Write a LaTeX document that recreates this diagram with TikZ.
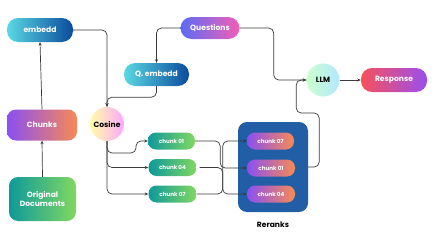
\documentclass[tikz,border=0pt]{standalone}
\usepackage{fontspec}
\setmainfont{Poppins}
\usetikzlibrary{arrows.meta}

\definecolor{lineGray}{HTML}{3A3A3A}
\definecolor{cyanA}{HTML}{5AD8E2}
\definecolor{navyB}{HTML}{0B4B9E}
\definecolor{violetA}{HTML}{8B4FF2}
\definecolor{peachB}{HTML}{F78A55}
\definecolor{tealA}{HTML}{0E9A9A}
\definecolor{limeB}{HTML}{80D860}
\definecolor{rerankBlue}{HTML}{215EA5}
\definecolor{periA}{HTML}{5B6CF5}
\definecolor{pinkB}{HTML}{F25FB5}
\definecolor{coralA}{HTML}{F7505A}
\definecolor{lilacB}{HTML}{9A4FF0}

\begin{document}
\begin{tikzpicture}[x=1pt, y=-1pt,
    every node/.style={font=\fontsize{7.6}{9}\selectfont\bfseries, inner sep=0pt},
    pill/.style={rectangle, rounded corners=11pt, text=white, minimum height=24pt},
    blueGrad/.style={left color=cyanA, right color=navyB},
    sunsetGrad/.style={left color=violetA, right color=peachB},
    mintGrad/.style={left color=tealA, right color=limeB},
    smallpill/.style={rectangle, rounded corners=8pt, text=white, minimum height=17pt,
        minimum width=48pt, font=\fontsize{5.6}{6.5}\selectfont\bfseries},
    link/.style={draw=lineGray, line width=0.7pt, rounded corners=5pt, -{Stealth[length=3.5pt, width=3pt]}}]

    \useasboundingbox (0,0) rectangle (437,241);

    % Inputs
    \node[pill, blueGrad, minimum width=66pt] (embedd) at (40,30) {embedd};
    \node[pill, sunsetGrad, rounded corners=9pt, minimum width=70pt, minimum height=31pt] (chunks) at (42,125) {Chunks};
    \node[pill, mintGrad, rounded corners=9pt, minimum width=67pt, minimum height=44pt, align=center] (docs) at (42.5,199) {Original\\Documents};

    % Query side
    \node[pill, left color=periA, right color=pinkB, minimum width=59pt, minimum height=22pt] (questions) at (210,28) {Questions};
    \node[pill, blueGrad, minimum width=65pt, minimum height=23pt] (qembedd) at (156.5,74.5) {Q. embedd};

    % Similarity
    \node[circle, minimum size=34pt, left color=yellow!35, right color=magenta!35, text=black] (cosine) at (107,124) {Cosine};

    % Retrieved chunks
    \node[smallpill, mintGrad, minimum width=47pt] (ca) at (171.5,141) {chunk 01};
    \node[smallpill, mintGrad] (cb) at (172.5,167.5) {chunk 04};
    \node[smallpill, mintGrad] (cc) at (172.5,194) {chunk 07};

    % Reranked chunks
    \node[rectangle, rounded corners=9pt, fill=rerankBlue, minimum width=70pt, minimum height=90pt] (rerank) at (273,167) {};
    \node[smallpill, sunsetGrad, minimum width=47pt] (ra) at (270.5,141) {chunk 07};
    \node[smallpill, sunsetGrad] (rb) at (271,168) {chunk 01};
    \node[smallpill, sunsetGrad] (rc) at (271,194) {chunk 04};
    \node (rlabel) at (273,225) {Reranks};

    % Answer
    \node[circle, minimum size=33pt, left color=green!20, right color=blue!30!cyan!30, text=black] (llm) at (323,80) {LLM};
    \node[pill, left color=coralA, right color=lilacB, minimum width=66pt] (response) at (394,80) {Response};

    % Connectors
    \draw[link] (docs.north) -- (chunks.south);
    \draw[link] (chunks.north) -- (embedd.south);
    \draw[link] (embedd.east) -| (cosine.north);
    \draw[link] (questions.west) -| (qembedd.north);
    \draw[link] (qembedd.south) -- ++(0,11) -| (cosine.north);
    \draw[link] (questions.east) -- ++(34,0) |- (llm.west);
    \draw[link] (rerank.east) -- ++(11,0) -- ++(0,-54) -- ++(-23,0) |- (llm.west);
    \draw[link] (llm.east) -- (response.west);

    \draw[link] (cosine.south) |- (136,153) |- (ca.west);
    \draw[link] (cosine.south) |- (cb.west);
    \draw[link] (cosine.south) |- (cc.west);

    \draw[link] (ca.east) -- ++(25,0) |- (rb.west);
    \draw[link] ([xshift=3pt]cb.east) -- ++(23,0) |- (rc.west);
    \draw[link] (cc.east) -- ++(26,0) |- (ra.west);
\end{tikzpicture}
\end{document}
